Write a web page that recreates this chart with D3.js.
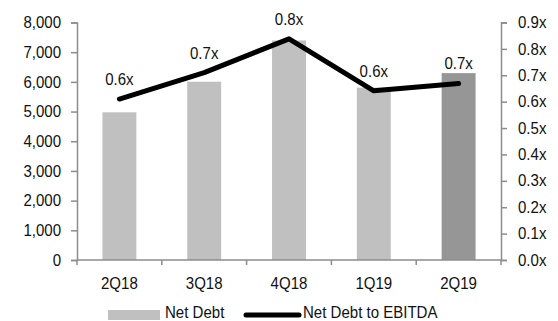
<!DOCTYPE html>
<html>
<head>
<meta charset="utf-8">
<script src="https://cdn.jsdelivr.net/npm/d3@7/dist/d3.min.js"></script>
<style>
  html, body { margin: 0; padding: 0; background: #fff; }
  svg { display: block; font-family: "Liberation Sans", Arial, sans-serif; }
</style>
</head>
<body>
<svg id="chart" width="558" height="321"></svg>
<script>
// Quarterly net debt (left axis) and net debt / EBITDA (right axis)
const quarters = ["2Q18", "3Q18", "4Q18", "1Q19", "2Q19"];
const netDebt = [4975, 6005, 7395, 5805, 6295];
const debtToEbitda = [0.61, 0.71, 0.838, 0.641, 0.669];
const leftTicks = [0, 1000, 2000, 3000, 4000, 5000, 6000, 7000, 8000];
const rightTicks = [0, 0.1, 0.2, 0.3, 0.4, 0.5, 0.6, 0.7, 0.8, 0.9];
const seriesNames = ["Net Debt", "Net Debt to EBITDA"];

const svg = d3.select("#chart");
const m = { left: 77, right: 501, top: 22.5, bottom: 260 };
const axisColor = "#8c8c8c";
const fontSize = 16;
const squeeze = 0.94; // slightly narrowed lettering

// Narrow a text element horizontally around its own x anchor
function narrow(sel) {
  sel.each(function () {
    const t = d3.select(this);
    const ax = +t.attr("x") || 0;
    t.attr("transform", `translate(${ax},0) scale(${squeeze},1) translate(${-ax},0)`);
  });
}

const x = d3.scaleBand().domain(quarters).range([m.left, m.right]).paddingInner(0.6).paddingOuter(0.3);
const xPos = d3.scalePoint().domain(quarters).range([m.left, m.right]).padding(0.5);
const yL = d3.scaleLinear().domain([0, 8000]).range([m.bottom, m.top]);
const yR = d3.scaleLinear().domain([0, 0.9]).range([m.bottom, m.top]);

// Bars
svg.append("g").selectAll("rect")
  .data(quarters)
  .join("rect")
  .attr("x", d => x(d))
  .attr("width", x.bandwidth())
  .attr("y", (d, i) => yL(netDebt[i]))
  .attr("height", (d, i) => yL(0) - yL(netDebt[i]))
  .attr("fill", (d, i) => i === quarters.length - 1 ? "#969696" : "#c0c0c0");

// Axes
function styleAxis(g) {
  g.selectAll("path, line").attr("stroke", axisColor).attr("stroke-width", 1.5);
  g.selectAll("text").attr("fill", "#111").style("font-size", fontSize + "px").call(narrow);
}

const gL = svg.append("g").attr("transform", `translate(${m.left},0)`)
  .call(d3.axisLeft(yL).tickValues(leftTicks).tickFormat(d3.format(",")).tickSize(6).tickSizeOuter(6).tickPadding(10));
styleAxis(gL);

const gR = svg.append("g").attr("transform", `translate(${m.right},0)`)
  .call(d3.axisRight(yR).tickValues(rightTicks).tickFormat(d => d3.format(".1f")(d) + "x").tickSize(6).tickSizeOuter(6).tickPadding(11));
styleAxis(gR);

// Category axis with ticks on band boundaries
const gX = svg.append("g").attr("transform", `translate(0,${m.bottom})`);
gX.append("line").attr("x1", m.left).attr("x2", m.right).attr("stroke", axisColor).attr("stroke-width", 1.5);
const step = (m.right - m.left) / quarters.length;
gX.selectAll("line.tick")
  .data(d3.range(quarters.length + 1))
  .join("line")
  .attr("class", "tick")
  .attr("x1", i => m.left + i * step).attr("x2", i => m.left + i * step)
  .attr("y1", 0).attr("y2", 5)
  .attr("stroke", axisColor).attr("stroke-width", 1.5);
gX.selectAll("text")
  .data(quarters)
  .join("text")
  .attr("x", d => xPos(d))
  .attr("y", 29)
  .attr("text-anchor", "middle")
  .attr("fill", "#111")
  .style("font-size", fontSize + "px")
  .text(d => d)
  .call(narrow);

// Ratio line
const line = d3.line().x((d, i) => xPos(quarters[i])).y(d => yR(d));
svg.append("path")
  .datum(debtToEbitda)
  .attr("d", line)
  .attr("fill", "none")
  .attr("stroke", "#000")
  .attr("stroke-width", 5)
  .attr("stroke-linecap", "round")
  .attr("stroke-linejoin", "round");

// Ratio labels
svg.append("g").selectAll("text")
  .data(debtToEbitda)
  .join("text")
  .attr("x", (d, i) => xPos(quarters[i]))
  .attr("y", d => yR(d) - 14)
  .attr("text-anchor", "middle")
  .attr("fill", "#111")
  .style("font-size", fontSize + "px")
  .text(d => d3.format(".1f")(d) + "x")
  .call(narrow);

// Legend
const lg = svg.append("g");
lg.append("rect").attr("x", 108).attr("y", 310).attr("width", 52).attr("height", 10).attr("fill", "#c0c0c0");
lg.append("text").attr("x", 165).attr("y", 318).attr("fill", "#111").style("font-size", fontSize + "px").text(seriesNames[0]).call(narrow);
lg.append("line").attr("x1", 246).attr("x2", 299).attr("y1", 315).attr("y2", 315)
  .attr("stroke", "#000").attr("stroke-width", 5).attr("stroke-linecap", "round");
lg.append("text").attr("x", 303).attr("y", 318).attr("fill", "#111").style("font-size", fontSize + "px").text(seriesNames[1]).call(narrow);
</script>
</body>
</html>
